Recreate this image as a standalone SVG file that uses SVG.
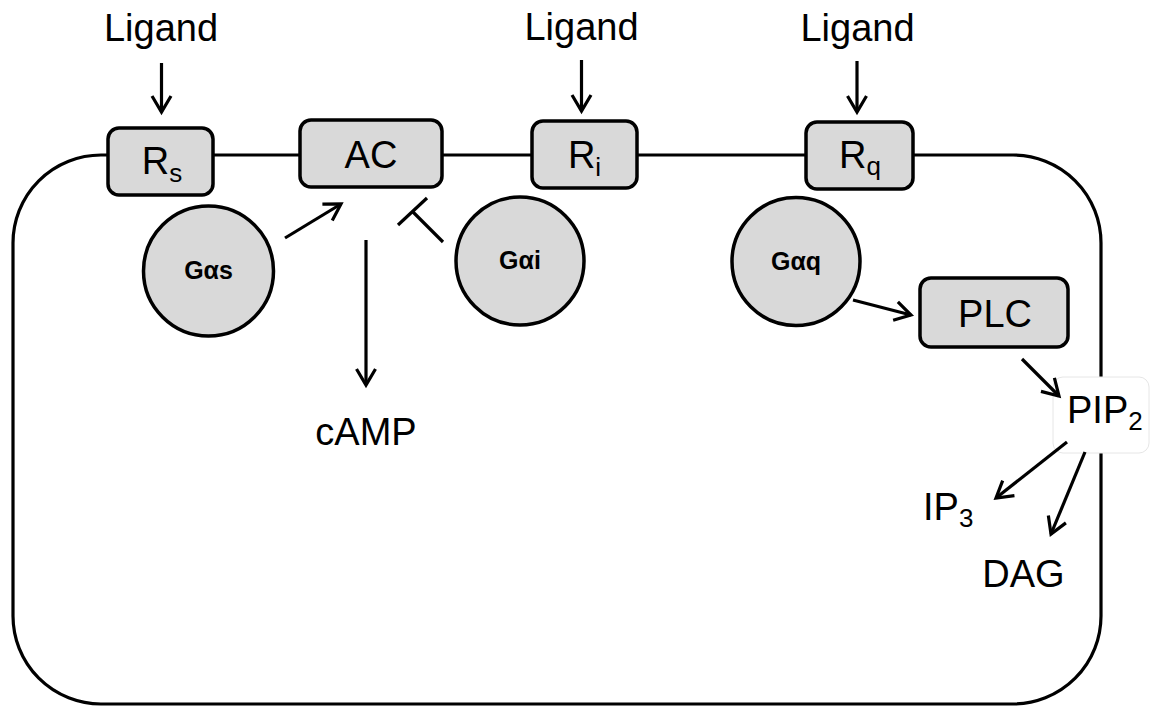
<svg xmlns="http://www.w3.org/2000/svg" width="1158" height="708" viewBox="0 0 1158 708">
<defs>
<style>
.t{font-family:"Liberation Sans",Arial,sans-serif;font-size:38px;fill:#000}
.g{font-family:"Liberation Sans",Arial,sans-serif;font-size:25px;font-weight:bold;fill:#000}
.box{fill:#d9d9d9;stroke:#000;stroke-width:3.5}
.ln{fill:none;stroke:#000;stroke-width:3.2}
</style>
<marker id="arr" viewBox="-20 -12 24 24" refX="0" refY="0" markerWidth="24" markerHeight="24" markerUnits="userSpaceOnUse" orient="auto">
<path d="M -16 -9.5 L 0 0 L -16 9.5" fill="none" stroke="#000" stroke-width="3.2"/>
</marker>
</defs>
<rect width="1158" height="708" fill="#fff"/>
<g id="cell">
<rect x="13" y="155" width="1088" height="549" rx="88" ry="88" class="ln"/>
</g>
<g id="ligand-s"><text class="t" x="161" y="41" text-anchor="middle">Ligand</text></g>
<g id="ligand-i"><text class="t" x="581.5" y="40" text-anchor="middle">Ligand</text></g>
<g id="ligand-q"><text class="t" x="857.5" y="41" text-anchor="middle">Ligand</text></g>
<g id="Rs">
<rect x="108" y="128" width="105" height="67" rx="11" class="box"/>
<text class="t" x="162" y="174" text-anchor="middle">R<tspan font-size="26" dy="8">s</tspan></text>
</g>
<g id="AC">
<rect x="300" y="120" width="142" height="67" rx="11" class="box"/>
<text class="t" x="371" y="168" text-anchor="middle" font-size="39">AC</text>
</g>
<g id="Ri">
<rect x="532" y="121" width="105" height="67" rx="11" class="box"/>
<text class="t" x="584.5" y="168" text-anchor="middle">R<tspan font-size="26" dy="8">i</tspan></text>
</g>
<g id="Rq">
<rect x="806" y="122" width="107" height="67" rx="11" class="box"/>
<text class="t" x="860" y="168" text-anchor="middle">R<tspan font-size="26" dy="7">q</tspan></text>
</g>
<g id="Gas">
<circle cx="208.5" cy="271" r="65" class="box"/>
<text class="g" x="208.5" y="279" text-anchor="middle">Gαs</text>
</g>
<g id="Gai">
<circle cx="520" cy="261" r="64" class="box"/>
<text class="g" x="520" y="269" text-anchor="middle">Gαi</text>
</g>
<g id="Gaq">
<circle cx="796" cy="261.5" r="64" class="box"/>
<text class="g" x="796" y="270" text-anchor="middle">Gαq</text>
</g>
<g id="PLC">
<rect x="920" y="278" width="148" height="69" rx="11" class="box"/>
<text class="t" x="995" y="327" text-anchor="middle" font-size="39">PLC</text>
</g>
<g id="cAMP"><text class="t" x="366" y="445" text-anchor="middle">cAMP</text></g>
<g id="PIP2">
<rect x="1053" y="377" width="96" height="76" rx="10" fill="#fff" stroke="#e6e6e6" stroke-width="1"/>
<text class="t" x="1067" y="423">PIP<tspan font-size="26" dy="7">2</tspan></text>
</g>
<g id="IP3"><text class="t" x="923" y="520">IP<tspan font-size="26" dy="7">3</tspan></text></g>
<g id="DAG"><text class="t" x="1023.5" y="587" text-anchor="middle">DAG</text></g>
<g id="connectors">
<line x1="161.5" y1="63" x2="161.5" y2="112" class="ln" marker-end="url(#arr)"/>
<line x1="581.5" y1="60" x2="581.5" y2="111" class="ln" marker-end="url(#arr)"/>
<line x1="857" y1="61" x2="857" y2="112" class="ln" marker-end="url(#arr)"/>
<line x1="285" y1="238" x2="341" y2="204" class="ln" marker-end="url(#arr)"/>
<line x1="443" y1="242" x2="412.5" y2="211.5" class="ln"/>
<line x1="398" y1="225" x2="427" y2="198" class="ln"/>
<line x1="366" y1="240" x2="366" y2="385" class="ln" marker-end="url(#arr)"/>
<line x1="853" y1="300" x2="911" y2="315" class="ln" marker-end="url(#arr)"/>
<line x1="1022" y1="359" x2="1059" y2="396" class="ln" marker-end="url(#arr)"/>
<line x1="1067" y1="442" x2="996" y2="498" class="ln" marker-end="url(#arr)"/>
<line x1="1085" y1="452" x2="1051" y2="534" class="ln" marker-end="url(#arr)"/>
</g>
</svg>
